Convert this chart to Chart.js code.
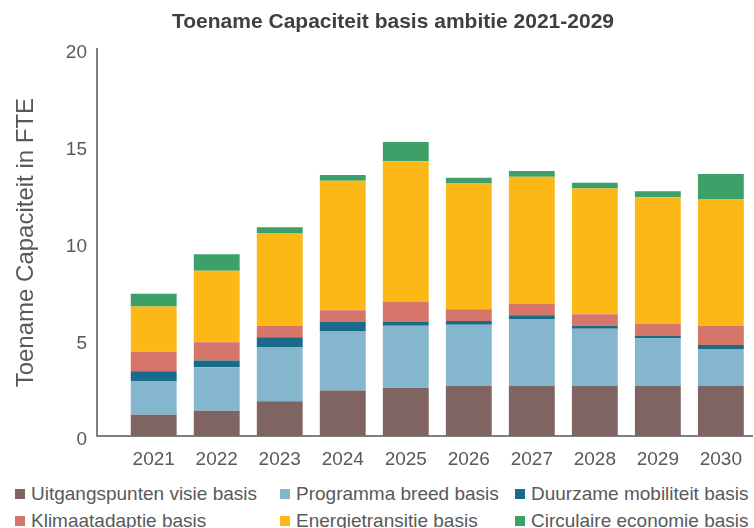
<!DOCTYPE html>
<html>
<head>
<meta charset="utf-8">
<script src="https://cdn.jsdelivr.net/npm/chart.js@4/dist/chart.umd.min.js"></script>
<style>
  html, body { margin:0; padding:0; background:#fff; overflow:hidden; }
  #wrap { position:relative; width:754px; height:478px; }
  #legend {
    display:grid;
    grid-template-columns:265px 235px auto;
    padding:2px 0 0 15px;
    font-family:"Liberation Sans", Arial, sans-serif;
    font-size:19px;
    color:#595959;
    line-height:27px;
    white-space:nowrap;
  }
  #legend span.box { display:inline-block; width:10px; height:10px; margin-right:6px; vertical-align:1px; }
</style>
</head>
<body>
<div id="wrap"><canvas id="capaciteit"></canvas></div>
<div id="legend"></div>
<script>
// jaren
var jaren = ["2021","2022","2023","2024","2025","2026","2027","2028","2029","2030"];

// waarden per onderdeel (FTE)
var uitgangspunten = [1.1, 1.3, 1.8, 2.35, 2.5, 2.6, 2.6, 2.6, 2.6, 2.6];
var programma      = [1.75, 2.25, 2.8, 3.05, 3.2, 3.15, 3.45, 2.95, 2.45, 1.9];
var mobiliteit     = [0.5, 0.35, 0.5, 0.5, 0.2, 0.2, 0.2, 0.15, 0.15, 0.2];
var klimaat        = [1.0, 0.95, 0.6, 0.6, 1.05, 0.6, 0.6, 0.6, 0.6, 1.0];
var energie        = [2.35, 3.7, 4.8, 6.7, 7.25, 6.5, 6.55, 6.5, 6.55, 6.55];
var circulair      = [0.65, 0.85, 0.3, 0.3, 1.0, 0.3, 0.3, 0.3, 0.3, 1.3];

var yTicks = [0, 5, 10, 15, 20];

var font = "'Liberation Sans', Arial, sans-serif";
var grijs = '#595959';

// titel iets naar rechts, zoals in het origineel
var titleShift = {
  id: 'titleShift',
  afterLayout: function(chart){
    var t = chart.titleBlock;
    if (t) { t.left += 16; t.right += 16; }
  }
};

var ctx = document.getElementById('capaciteit').getContext('2d');
var chart = new Chart(ctx, {
  type: 'bar',
  data: {
    labels: jaren,
    datasets: [
      { label: 'Uitgangspunten visie basis', data: uitgangspunten, backgroundColor: '#806462' },
      { label: 'Programma breed basis', data: programma, backgroundColor: '#84B6CD' },
      { label: 'Duurzame mobiliteit basis', data: mobiliteit, backgroundColor: '#1A6A8A' },
      { label: 'Klimaatadaptie basis', data: klimaat, backgroundColor: '#D6756A' },
      { label: 'Energietransitie basis', data: energie, backgroundColor: '#FBB817' },
      { label: 'Circulaire economie basis', data: circulair, backgroundColor: '#3DA068' }
    ]
  },
  options: {
    responsive: true,
    maintainAspectRatio: false,
    animation: false,
    layout: { padding: 0 },
    datasets: { bar: { barPercentage: 0.728, categoryPercentage: 1, borderWidth: 0 } },
    plugins: {
      legend: { display: false },
      tooltip: { enabled: false },
      title: {
        display: true,
        text: 'Toename Capaciteit basis ambitie 2021-2029',
        color: '#404040',
        font: { family: font, size: 21, weight: 'bold' },
        padding: { top: 10, bottom: 14 }
      }
    },
    scales: {
      x: {
        stacked: true,
        grid: { display: false, drawTicks: false },
        border: { display: true, color: '#7f7f7f', width: 2 },
        ticks: { color: grijs, font: { family: font, size: 19 }, padding: 12, autoSkip: false, maxRotation: 0 },
        afterBuildTicks: function(scale){
          // ruimte links van de eerste kolom
          scale._startValue -= 0.4;
          scale._valueRange += 0.4;
        },
        afterFit: function(scale){ scale.height = 42; }
      },
      y: {
        stacked: true,
        min: 0,
        max: 20,
        grid: { display: false, drawTicks: false },
        border: { display: true, color: '#7f7f7f', width: 2 },
        afterBuildTicks: function(scale){
          scale.ticks = yTicks.map(function(v){ return { value: v }; });
        },
        ticks: { color: grijs, font: { family: font, size: 19 }, padding: 10, labelOffset: 4 },
        title: {
          display: true,
          text: 'Toename Capaciteit in FTE',
          color: grijs,
          font: { family: font, size: 24 },
          padding: { top: 12, bottom: 0 }
        },
        afterFit: function(scale){ scale.width = 97; }
      }
    }
  },
  plugins: [titleShift]
});

// legenda in drie kolommen
var legend = document.getElementById('legend');
chart.data.datasets.forEach(function(ds){
  var item = document.createElement('div');
  var box = document.createElement('span');
  box.className = 'box';
  box.style.background = ds.backgroundColor;
  item.appendChild(box);
  item.appendChild(document.createTextNode(ds.label));
  legend.appendChild(item);
});
</script>
</body>
</html>
